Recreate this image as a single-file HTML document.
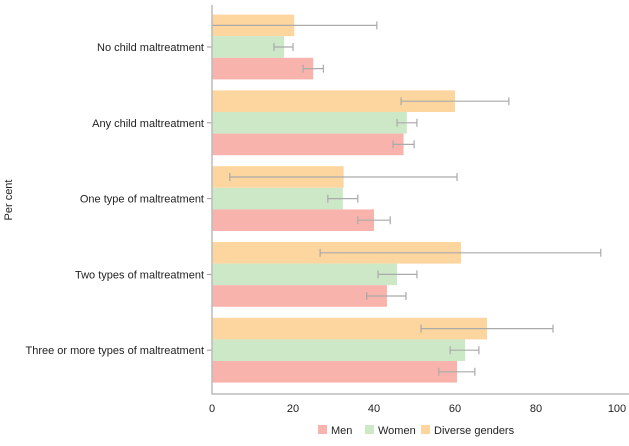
<!DOCTYPE html>
<html><head><meta charset="utf-8"><style>
body{margin:0;background:#fff}
svg{font-family:"Liberation Sans",Arial,sans-serif}
</style></head><body>
<svg id="chart" width="629" height="441"></svg>
<script>
const categories=["No child maltreatment","Any child maltreatment","One type of maltreatment","Two types of maltreatment","Three or more types of maltreatment"];
const series=["Diverse genders","Women","Men"];
const diverseVals=[20.3,60,32.5,61.5,67.9];
const diverseLo=[0,46.7,4.4,26.7,51.6];
const diverseHi=[40.7,73.3,60.5,96,84.2];
const womenVals=[17.8,48.1,32.3,45.7,62.5];
const womenLo=[15.3,45.7,28.6,41,58.8];
const womenHi=[20,50.6,36,50.6,65.9];
const menVals=[25,47.3,40,43.2,60.5];
const menLo=[22.5,44.7,36,38.2,56];
const menHi=[27.5,49.9,44,47.9,64.9];
const xTicks=[0,20,40,60,80,100];
const colors={"Diverse genders":"#fdd59e","Women":"#cde8c6","Men":"#f9b3ad"};
const NS="http://www.w3.org/2000/svg";
const svg=document.getElementById('chart');
const x0=212,x1=617,yTop=5,yBot=394;
const xs=v=>x0+(v/100)*(x1-x0);
const bandStart=10,bandH=75.8,barH=21.6;
function el(t,a,p){const e=document.createElementNS(NS,t);for(const k in a)e.setAttribute(k,a[k]);(p||svg).appendChild(e);return e;}
const vals=[diverseVals,womenVals,menVals],los=[diverseLo,womenLo,menLo],his=[diverseHi,womenHi,menHi];
categories.forEach((c,i)=>{
  const cy=bandStart+bandH*i+bandH/2-0.9;
  const g=el('g',{});
  
  
  series.forEach((s,j)=>{
    const y=cy-1.5*barH+j*barH;
    const r=el('rect',{x:x0,y:y,width:xs(vals[j][i])-x0,height:barH,fill:colors[s]},g);
    
    
    const ey=y+barH/2,a=xs(los[j][i]),b=xs(his[j][i]);
    const eb=el('path',{d:`M${a},${ey}H${b}M${a},${ey-4}V${ey+4}M${b},${ey-4}V${ey+4}`,stroke:'#aaa','stroke-width':1.2,fill:'none'},g);
    
    
  });
  el('line',{x1:x0-5,x2:x0,y1:cy,y2:cy,stroke:'#999'});
  const t=el('text',{x:x0-8,y:cy+4,'text-anchor':'end','font-size':11,fill:'#222'});
  t.textContent=c;
  
  
});
const ax=el('path',{d:`M${x0},${yTop}V${yBot}H${x1+12}`,stroke:'#bbb','stroke-width':1.5,fill:'none'});


xTicks.forEach(v=>{
  const t=el('text',{x:xs(v),y:yBot+18,'text-anchor':'middle','font-size':11,fill:'#222'});
  t.textContent=v;
  
  
});
const yt=el('text',{x:12,y:200,'text-anchor':'middle','font-size':11,fill:'#222',transform:'rotate(-90 12 200)'});
yt.textContent='Per cent';


const leg=[["Men",318],["Women",365],["Diverse genders",421]];
leg.forEach(([s,lx])=>{
  const g=el('g',{});
  
  
  el('rect',{x:lx,y:425,width:9,height:9,fill:colors[s]},g);
  const t=el('text',{x:lx+13,y:434,'font-size':11,fill:'#222'},g);
  t.textContent=s;
});
</script>
</body></html>
